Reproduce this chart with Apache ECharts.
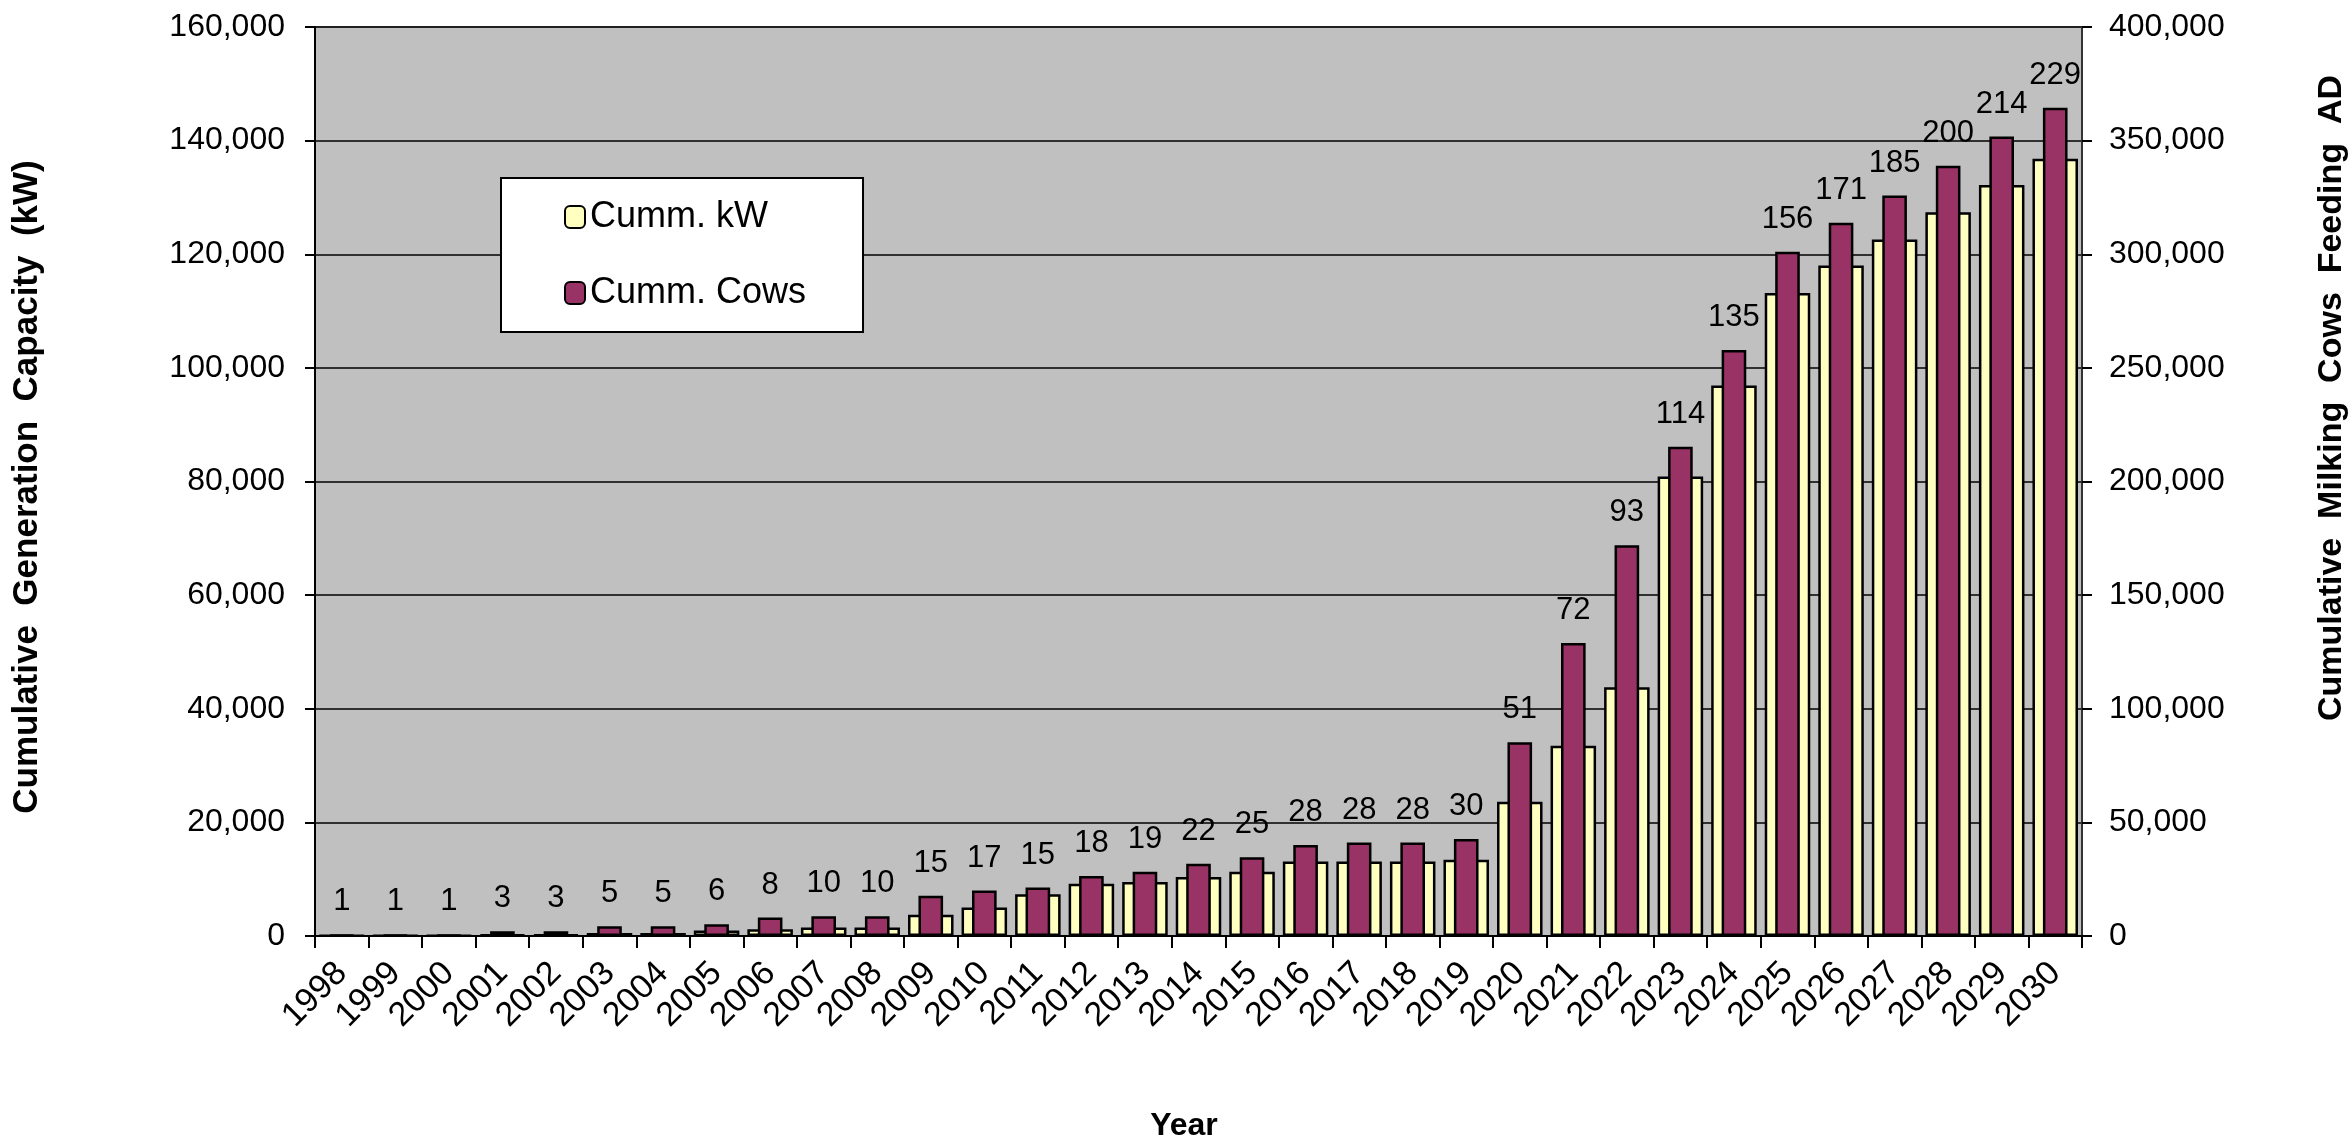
<!DOCTYPE html>
<html>
<head>
<meta charset="utf-8">
<script src="https://cdn.jsdelivr.net/npm/echarts@6/dist/echarts.min.js"></script>
<style>
html,body{margin:0;padding:0;background:#fff;}
#chart{width:2351px;height:1141px;}
</style>
</head>
<body>
<div id="chart"></div>
<script>
var years = ['1998','1999','2000','2001','2002','2003','2004','2005','2006','2007','2008','2009','2010','2011','2012','2013','2014','2015','2016','2017','2018','2019','2020','2021','2022','2023','2024','2025','2026','2027','2028','2029','2030'];
var cummKW = [100,100,100,240,240,530,530,950,1180,1480,1480,3730,5000,7330,9200,9500,10400,11300,13100,13100,13100,13400,23650,33500,43800,80900,96900,113200,118000,122600,127400,132200,136800];
var cummCows = [400,400,400,2100,2100,4300,4300,5200,8100,8700,8700,17750,20000,21300,26400,28300,31800,34700,40000,41100,41100,42700,85300,128900,171900,215300,257900,301100,313900,325800,338900,351800,364500];
var digesterCounts = [1,1,1,3,3,5,5,6,8,10,10,15,17,15,18,19,22,25,28,28,28,30,51,72,93,114,135,156,171,185,200,214,229];
var leftTicks = {min:0, max:160000, interval:20000};
var rightTicks = {min:0, max:400000, interval:50000};

var FONT = '"Liberation Sans", Arial, sans-serif';
var chart = echarts.init(document.getElementById('chart'), null, {renderer:'canvas'});
function fmt(v){ return Number(v).toLocaleString('en-US'); }

chart.setOption({
  backgroundColor:'#ffffff',
  animation:false,
  textStyle:{fontFamily:FONT},
  grid:{left:315, right:269, top:27, bottom:205, show:true, backgroundColor:'#C0C0C0', borderColor:'#808080', borderWidth:2},
  legend:{
    orient:'vertical', left:501, top:178,
    padding:[21,57,21,63], itemGap:40, itemWidth:20, itemHeight:22,
    backgroundColor:'#ffffff', borderColor:'#000', borderWidth:2,
    textStyle:{fontSize:36, fontFamily:FONT, color:'#000', lineHeight:36},
    data:['Cumm. kW','Cumm. Cows']
  },
  xAxis:[
    {type:'category', data:years, position:'bottom',
     axisLine:{show:true, lineStyle:{color:'#000', width:2}},
     axisTick:{show:true, alignWithLabel:false, length:12, lineStyle:{color:'#000', width:2}},
     axisLabel:{rotate:45, fontSize:34, color:'#000', fontFamily:FONT, margin:32, interval:0},
     splitLine:{show:false}},
    {type:'category', data:years, show:false}
  ],
  yAxis:[
    {type:'value', min:leftTicks.min, max:leftTicks.max, interval:leftTicks.interval, position:'left',
     axisLine:{show:true, lineStyle:{color:'#000', width:2}},
     axisTick:{show:true, length:10, lineStyle:{color:'#000', width:2}},
     axisLabel:{fontSize:32, color:'#000', fontFamily:FONT, margin:30, formatter:fmt},
     splitLine:{show:true, lineStyle:{color:'#000', width:1.5}}},
    {type:'value', min:rightTicks.min, max:rightTicks.max, interval:rightTicks.interval, position:'right',
     axisLine:{show:true, lineStyle:{color:'#333', width:2}},
     axisTick:{show:true, length:10, lineStyle:{color:'#000', width:2}},
     axisLabel:{fontSize:32, color:'#000', fontFamily:FONT, margin:27, formatter:fmt},
     splitLine:{show:false}}
  ],
  series:[
    {name:'Cumm. kW', type:'bar', xAxisIndex:0, yAxisIndex:0, data:cummKW, barWidth:'85%',
     itemStyle:{color:'#FFFFC0', borderColor:'#000', borderWidth:2.5}},
    {name:'Cumm. Cows', type:'bar', xAxisIndex:1, yAxisIndex:1, data:cummCows, barWidth:'46%',
     itemStyle:{color:'#993366', borderColor:'#000', borderWidth:2.5},
     label:{show:true, position:'top', distance:17, fontSize:31, color:'#000', fontFamily:FONT,
            formatter:function(p){ return String(digesterCounts[p.dataIndex]); }}}
  ],
  graphic:[
    {type:'text', x:27, y:487, rotation:Math.PI/2,
     style:{text:'Cumulative  Generation  Capacity  (kW)', fontSize:35, fontWeight:'bold', fontFamily:FONT, fill:'#000', align:'center', verticalAlign:'middle'}},
    {type:'text', x:2332, y:398, rotation:Math.PI/2,
     style:{text:'Cumulative  Milking  Cows  Feeding  AD', fontSize:34, fontWeight:'bold', fontFamily:FONT, fill:'#000', align:'center', verticalAlign:'middle'}},
    {type:'text', x:1184, y:1126,
     style:{text:'Year', fontSize:32, fontWeight:'bold', fontFamily:FONT, fill:'#000', align:'center', verticalAlign:'middle'}}
  ]
});
</script>
</body>
</html>
